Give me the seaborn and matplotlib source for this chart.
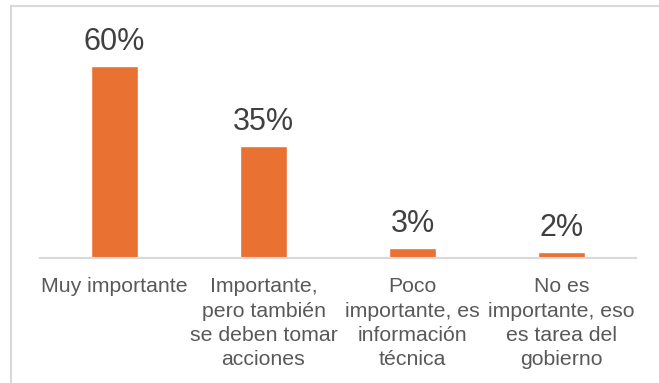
import matplotlib
matplotlib.use("Agg")
import matplotlib.pyplot as plt
from matplotlib.lines import Line2D
import seaborn as sns
import pandas as pd

categories = [
    "Muy importante",
    "Importante,\npero también\nse deben tomar\nacciones",
    "Poco\nimportante, es\ninformación\ntécnica",
    "No es\nimportante, eso\nes tarea del\ngobierno",
]
values = [60, 35, 3, 2]
value_labels = ["60%", "35%", "3%", "2%"]

sns.set_style("white")
plt.rcParams["font.family"] = ["Liberation Sans", "DejaVu Sans"]

W, H = 659, 383
fig = plt.figure(figsize=(W / 100, H / 100), dpi=100)
ax = fig.add_axes([40 / W, 1 - 258 / H, (636 - 40) / W, (258 - 20) / H])

df = pd.DataFrame({"cat": categories, "val": values})
sns.barplot(data=df, x="cat", y="val", color="#E97132", saturation=1,
            width=0.31, ax=ax)

ax.set_ylim(0, 74.5)
ax.set_xlim(-0.5, len(categories) - 0.5)
ax.set_xlabel("")
ax.set_ylabel("")
ax.set_yticks([])
for s in ["top", "right", "left"]:
    ax.spines[s].set_visible(False)
ax.spines["bottom"].set_color("#D9D9D9")
ax.spines["bottom"].set_linewidth(1.5)
ax.tick_params(axis="x", length=0, pad=14)
for lbl in ax.get_xticklabels():
    lbl.set_fontsize(15.3)
    lbl.set_color("#595959")
    lbl.set_linespacing(1.34)
    lbl.set_verticalalignment("top")

for i, (v, t) in enumerate(zip(values, value_labels)):
    ax.annotate(t, (i, v), xytext=(0, 6.5), textcoords="offset points",
                ha="center", va="bottom", fontsize=22, color="#404040")

# light frame along the top and left edges
fig.add_artist(Line2D([10.5 / W, 1], [1 - 5.5 / H, 1 - 5.5 / H],
                      transform=fig.transFigure, color="#D9D9D9", lw=1.5))
fig.add_artist(Line2D([10.5 / W, 10.5 / W], [0, 1 - 5.5 / H],
                      transform=fig.transFigure, color="#D9D9D9", lw=1.5))

fig.savefig("out.png", dpi=100)
